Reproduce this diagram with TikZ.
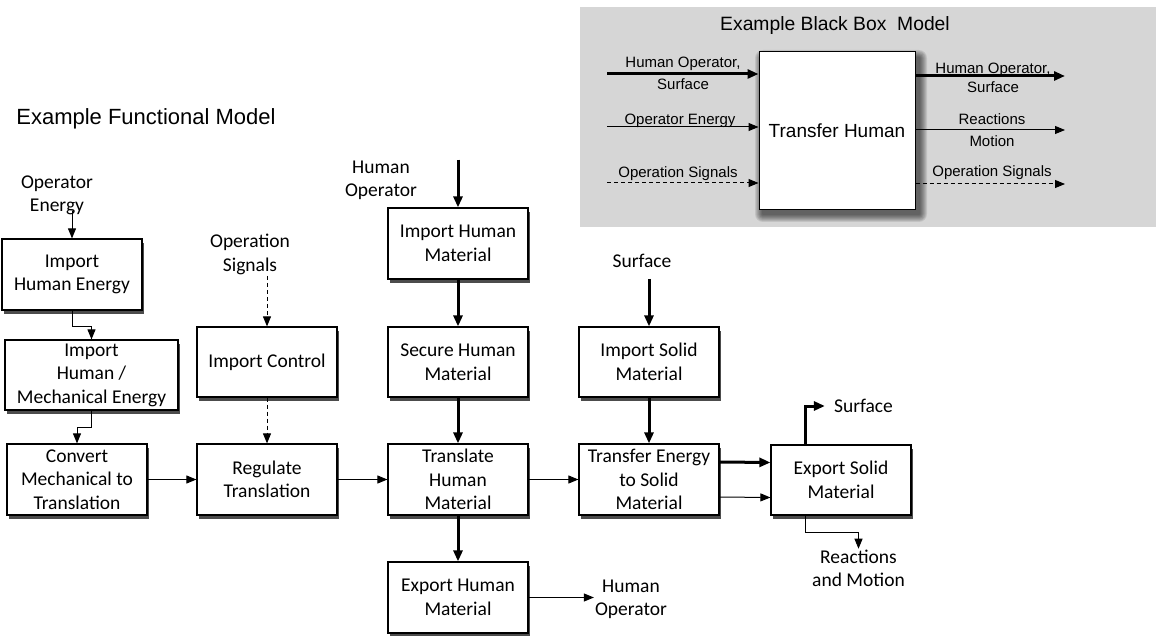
\documentclass[tikz,border=0pt]{standalone}
\usepackage{fontspec}
\setmainfont{Carlito}
\newfontfamily\arialfont{Liberation Sans}
\usetikzlibrary{arrows.meta,shadows}

\begin{document}
\begin{tikzpicture}[x=1pt,y=-1pt,
	func/.style={draw,line width=1.2pt,fill=white,minimum width=140pt,minimum height=71pt,align=center,inner sep=1pt,
		font=\fontsize{19.5}{23.5}\selectfont,drop shadow={fill=black!70,opacity=1,shadow xshift=2pt,shadow yshift=-4pt}},
	lbl/.style={align=center,inner sep=1pt,font=\fontsize{19.5}{23.5}\selectfont},
	flow/.style={line width=1pt,-{Triangle[length=10pt,width=8pt]}},
	heavy/.style={line width=3pt,-{Triangle[length=11pt,width=9pt]}},
	signal/.style={flow,dash pattern=on 4pt off 3pt},
	bb/.style={align=center,inner sep=0pt,font=\arialfont\fontsize{15}{22}\selectfont}]
	   \useasboundingbox (0,0) rectangle (1156,636);
	   % black box model
	   \fill[gray!32] (580,7) rectangle (1156,227);
	   \node[font=\arialfont\fontsize{19.3}{22}\selectfont] (bbtitle) at (835,26) {Example Black Box\ \ Model};
	   \foreach \s in {1,...,8}
	      \fill[black,opacity=0.09,rounded corners=\s pt] (763-\s,58-\s) rectangle (919+\s,214+\s);
	   \node[draw,line width=1pt,fill=white,minimum width=156pt,minimum height=158pt,
	      font=\arialfont\fontsize{19}{22}\selectfont] (th) at (837,131) {Transfer Human};
	   \coordinate (in1) at (607,74);
	   \coordinate (in2) at (607,127);
	   \coordinate (in3) at (607,183);
	   \coordinate (out1) at (1065,76);
	   \coordinate (out2) at (1065,130);
	   \coordinate (out3) at (1065,184);
	   \draw[heavy] (in1) -- (in1 -| th.west);
	   \draw[flow] (in2) -- (in2 -| th.west);
	   \draw[signal] (in3) -- (in3 -| th.west);
	   \draw[heavy] (out1 -| th.east) -- (out1);
	   \draw[flow] (out2 -| th.east) -- (out2);
	   \draw[signal] (out3 -| th.east) -- (out3);
	   \node[bb] (lhs1) at (683,73.6) {Human Operator,\\Surface};
	   \node[bb,anchor=base] (lhs2) at (680,125) {Operator Energy};
	   \node[bb,anchor=base] (lhs3) at (678,178) {Operation Signals};
	   \node[bb,font=\arialfont\fontsize{15}{19}\selectfont] (rhs1) at (993,78) {Human Operator,\\Surface};
	   \node[bb] (rhs2) at (992,130) {Reactions\\Motion};
	   \node[bb,anchor=base] (rhs3) at (992,177) {Operation Signals};
	   % functional model
	   \node[font=\arialfont\fontsize{22}{26}\selectfont] (ftitle) at (146,118.5) {Example Functional Model};
	   \node[func] (ihe) at (72,274.5) {Import\\Human Energy};
	   \node[func,minimum width=173pt,minimum height=70pt] (hme) at (91.5,375) {Import\\Human /\\Mechanical Energy};
	   \node[func] (cmt) at (77,479.5) {Convert\\Mechanical to\\Translation};
	   \node[func,minimum height=70pt] (ic) at (267,362) {Import Control};
	   \node[func] (rt) at (267,479.5) {Regulate\\Translation};
	   \node[func] (ihm) at (458,243.5) {Import Human\\Material};
	   \node[func,minimum height=70pt] (shm) at (458,362) {Secure Human\\Material};
	   \node[func] (thm) at (458,479.5) {Translate\\Human\\Material};
	   \node[func] (ehm) at (458,597.5) {Export Human\\Material};
	   \node[func,minimum height=70pt] (ism) at (649,362) {Import Solid\\Material};
	   \node[func] (tes) at (649,479.5) {Transfer Energy\\to Solid\\Material};
	   \node[func,minimum height=70pt] (esm) at (841,480) {Export Solid\\Material};
	   \node[lbl] (openg) at (57,195.5) {Operator\\Energy};
	   \node[lbl] (opsig) at (250,254.5) {Operation\\Signals};
	   \node[lbl] (hop) at (381,180.5) {Human\\Operator};
	   \node[lbl] (surf) at (642,261) {Surface};
	   \node[lbl] (hopout) at (631,599.5) {Human\\Operator};
	   \node[lbl] (surfout) at (863.5,406) {Surface};
	   \node[lbl] (react) at (858.5,568.5) {Reactions\\and Motion};
	   % flows
	   \draw[flow] ([yshift=5pt]ihe.north |- openg.south) -- (ihe.north);
	   \draw[flow] (ihe.south) -- ++(0,16) -| (hme.north);
	   \draw[flow] (hme.south) -- ++(0,17) -| (cmt.north);
	   \draw[flow] (cmt) -- (rt);
	   \draw[signal] (ic.north |- opsig.south) -- (ic.north);
	   \draw[signal] (ic) -- (rt);
	   \draw[flow] (rt) -- (thm);
	   \draw[heavy] (ihm.north |- hop.north) -- (ihm.north);
	   \draw[heavy] (ihm) -- (shm);
	   \draw[heavy] (shm) -- (thm);
	   \draw[heavy] (thm) -- (ehm);
	   \draw[flow] (ehm) -- (ehm -| hopout.west);
	   \draw[flow] (thm) -- (tes);
	   \draw[heavy] ([yshift=-10pt]ism.north |- surf.south) -- (ism.north);
	   \draw[heavy] (ism) -- (tes);
	   \draw[heavy] ([yshift=17.5pt]tes.east) -- ([yshift=17.5pt]esm.west);
	   \draw[flow] ([yshift=-17.5pt]tes.east) -- ([yshift=-17.5pt]esm.west);
	   \draw[heavy] ([xshift=-36pt]esm.north) |- ([xshift=-8pt]surfout.west);
	   \draw[flow] ([xshift=-36pt]esm.south) -- ++(0,17) -| (react.north);
 \end{tikzpicture}
\end{document}
